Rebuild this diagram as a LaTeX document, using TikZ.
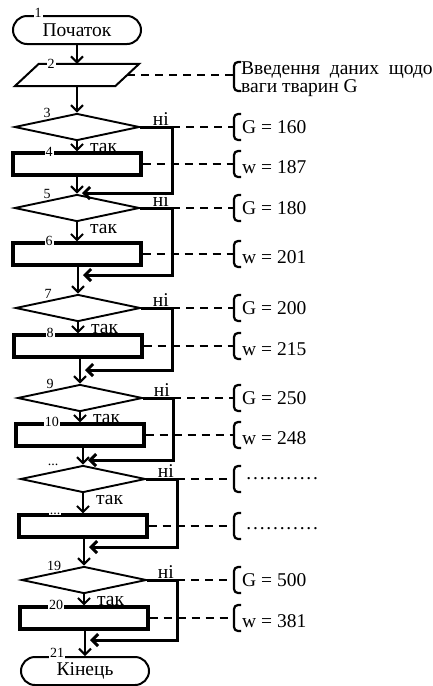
\documentclass[tikz,border=0pt]{standalone}
\usepackage{fontspec}
\setmainfont{Liberation Serif}
\usetikzlibrary{shapes.geometric,shapes.misc,arrows.meta}
\newcommand\fillerdots{\hbox to 80pt{\cleaders\hbox to 6.67pt{\hss.\hss}\hfill}}
\newcommand\numdots{...}
\tikzset{term/.style={draw,rounded rectangle,line width=2pt,minimum width=128pt,minimum height=28pt,inner sep=0pt,font=\fontsize{19.5}{20}\selectfont},
	cond/.style={draw,diamond,line width=1.9pt,minimum width=125pt,minimum height=27pt,inner sep=0pt},
	proc/.style={draw,rectangle,line width=3.2pt,minimum width=128pt,minimum height=22pt,inner sep=0pt},
	num/.style={fill=white,inner sep=1pt,font=\fontsize{14}{14}\selectfont},
	lbl/.style={inner sep=0pt,font=\fontsize{19.5}{20}\selectfont},
	note/.style={anchor=west,inner sep=0pt,font=\fontsize{19.5}{18.5}\selectfont},
	flow/.style={->,line width=2pt},
	back/.style={->,line width=3pt},
	link/.style={line width=2.6pt,dash pattern=on 8pt off 6pt},
	brk/.style={line width=2.2pt,rounded corners=4pt}}
\begin{document}
\begin{tikzpicture}[x=1pt,y=-1pt,>={Straight Barb[length=6pt,width=12pt]}]
\useasboundingbox (0,0) rectangle (433,686);
% start and input
\node[term] (start) at (77,30) {Початок};
\node[num] at ([xshift=-39pt,yshift=2pt]start.north) {1};
\node[minimum width=100pt,minimum height=22pt,inner sep=0pt] (in) at (77,75) {};
\draw[line width=2pt] ([xshift=12pt]in.north west) -- ([xshift=12pt]in.north east)
	-- ([xshift=-12pt]in.south east) -- ([xshift=-12pt]in.south west) -- cycle;
\node[num] at ([xshift=-26pt]in.north) {2};
\coordinate (bin) at (234,75);
\draw[brk] (241,62) -- (234,62) -- (234,91) -- (241,91);
\node[note,align=left] (tin) at (241,79) {Введення\ \ даних\ \ щодо\\ваги тварин G};
\draw[link] (in.east) -- (bin);
\draw[flow] (start.south) -- (in.north);
% decision blocks
\foreach \i/\cx/\dy/\ry/\vx/\dn/\rn/\gt/\wt in {
	1/77/127/164/172/3/4/{G = 160}/{w = 187},
	2/77/208/254/172/5/6/{G = 180}/{w = 201},
	3/78/308/346/172/7/8/{G = 200}/{w = 215},
	4/80/398/435/173/9/10/{G = 250}/{w = 248},
	5/83/479/526/177/\numdots/\numdots/\fillerdots/\fillerdots,
	6/84/580/618/177/19/20/{G = 500}/{w = 381}}{
	\node[cond] (d\i) at (\cx,\dy) {};
	\node[proc] (r\i) at (\cx,\ry) {};
	\node[num] at ([xshift=-30pt]d\i.north) {\dn};
	\node[num] at ([xshift=-28pt]r\i.north) {\rn};
	\coordinate (c\i) at (\vx,\dy);
	\coordinate (bg\i) at (234,\dy);
	\coordinate (bw\i) at (234,\ry);
	\draw[flow] (d\i.south) -- (r\i.north);
	\node[lbl,anchor=west] at ([xshift=13pt,yshift=-7pt]d\i.south) {так};
	\node[lbl,anchor=south east] at ([xshift=-3pt,yshift=1pt]c\i) {ні};
	\draw[link] (c\i) -- (bg\i);
	\draw[link] (r\i.east) -- (bw\i);
	\draw[brk] (241,\dy-13) -- (234,\dy-13) -- (234,\dy+13) -- (241,\dy+13);
	\draw[brk] (241,\ry-13) -- (234,\ry-13) -- (234,\ry+13) -- (241,\ry+13);
	\node[note] (g\i) at (242,\dy) {\gt};
	\node[note] (w\i) at (242,\ry+3) {\wt};
}
\draw[flow] (in.south) -- (d1.north);
\node[term] (stop) at (85,671) {\raisebox{-2pt}{Кінець}};
\node[num] at ([xshift=-28pt,yshift=3pt]stop.north) {21};
% joins
\foreach \i/\j/\my in {1/d2/193,2/d3/275,3/d4/370,4/d5/460,5/d6/547,6/stop/640}{
	\coordinate (m\i) at (0,\my);
	\draw[flow] (r\i.south -| \j.north) -- (\j.north);
	\draw[back] (d\i.east) -- (c\i) |- ([xshift=5pt]\j.north |- m\i);
}
\end{tikzpicture}
\end{document}
